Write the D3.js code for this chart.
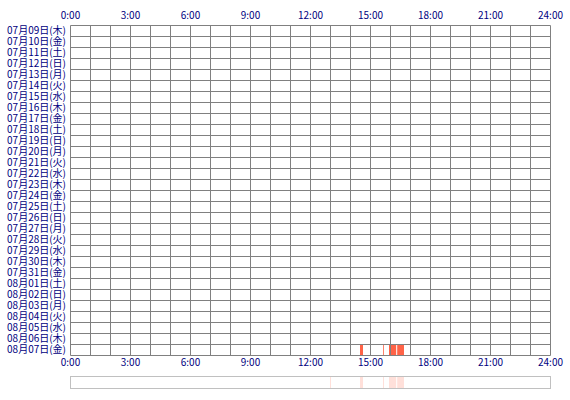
<!DOCTYPE html>
<html><head><meta charset="utf-8">
<script src="https://cdn.jsdelivr.net/npm/d3@7"></script>
<style>
body{margin:0;background:#fff;}
text{font-family:"Noto Sans CJK JP","DejaVu Sans",sans-serif;font-size:10px;fill:#000080;}
</style></head><body>
<svg id="c" width="570" height="400"></svg>
<script>
const dateLabels = ["07月09日(木)","07月10日(金)","07月11日(土)","07月12日(日)","07月13日(月)","07月14日(火)","07月15日(水)","07月16日(木)","07月17日(金)","07月18日(土)","07月19日(日)","07月20日(月)","07月21日(火)","07月22日(水)","07月23日(木)","07月24日(金)","07月25日(土)","07月26日(日)","07月27日(月)","07月28日(火)","07月29日(水)","07月30日(木)","07月31日(金)","08月01日(土)","08月02日(日)","08月03日(月)","08月04日(火)","08月05日(水)","08月06日(木)","08月07日(金)"];
const hourTicks = [0,3,6,9,12,15,18,21,24];
const tickLabels = ["0:00","3:00","6:00","9:00","12:00","15:00","18:00","21:00","24:00"];
const eventDays = ["08月07日(金)","08月07日(金)","08月07日(金)","08月07日(金)","08月07日(金)"];
const eventStarts = [13.0, 14.5, 15.65, 15.95, 16.36];
const eventEnds = [13.04, 14.65, 15.69, 16.31, 16.7];

const svg = d3.select("#c");
const x = d3.scaleLinear().domain([0,24]).range([70,550]);
const y = d3.scaleBand().domain(dateLabels).range([25,355]);
const events = eventDays.map((d,i)=>({day:d,s:eventStarts[i],e:eventEnds[i]}));

// bars
svg.append("g").selectAll("rect").data(events).join("rect")
  .attr("x",d=>x(d.s)).attr("width",d=>x(d.e)-x(d.s))
  .attr("y",d=>y(d.day)).attr("height",y.bandwidth())
  .attr("fill","#ff6347");

// grid
const g = svg.append("g").attr("transform","translate(0.5,0.5)").attr("stroke","#808080").attr("stroke-width",1);
g.selectAll("line.v").data(d3.range(0,25)).join("line").attr("class","v")
  .attr("x1",d=>x(d)).attr("x2",d=>x(d)).attr("y1",y.range()[0]).attr("y2",y.range()[1]);
g.selectAll("line.h").data(dateLabels.map(d=>y(d)).concat([y.range()[1]])).join("line").attr("class","h")
  .attr("x1",x(0)).attr("x2",x(24)).attr("y1",d=>d).attr("y2",d=>d);

// axes
const fmt = (d)=>tickLabels[hourTicks.indexOf(d)];
const axTop = svg.append("g").attr("transform","translate(0,19)")
  .call(d3.axisTop(x).tickValues(hourTicks).tickFormat(fmt).tickSize(0).tickPadding(0));
const axBot = svg.append("g").attr("transform","translate(0,360)")
  .call(d3.axisBottom(x).tickValues(hourTicks).tickFormat(fmt).tickSize(0).tickPadding(0));
[axTop,axBot].forEach(a=>{a.select(".domain").remove();a.selectAll("text").attr("fill","#000080").style("font-size","10px").style("font-family",'"Noto Sans CJK JP",sans-serif');});
axBot.selectAll("text").attr("dy","0.6em");
axTop.selectAll("text").attr("dy","0");

// date labels
svg.append("g").selectAll("text").data(dateLabels).join("text")
  .attr("x",66).attr("y",d=>y(d)+y.bandwidth()/2).attr("dy","0.35em")
  .attr("text-anchor","end").text(d=>d);

// summary strip
svg.append("g").selectAll("rect").data(events).join("rect")
  .attr("x",d=>x(d.s)).attr("width",d=>Math.max(1,x(d.e)-x(d.s)))
  .attr("y",377).attr("height",11).attr("fill","#ff6347").attr("opacity",0.2);
svg.append("rect").attr("x",70.5).attr("y",376.5).attr("width",480).attr("height",12)
  .attr("fill","none").attr("stroke","#c0c0c0");
</script></body></html>
